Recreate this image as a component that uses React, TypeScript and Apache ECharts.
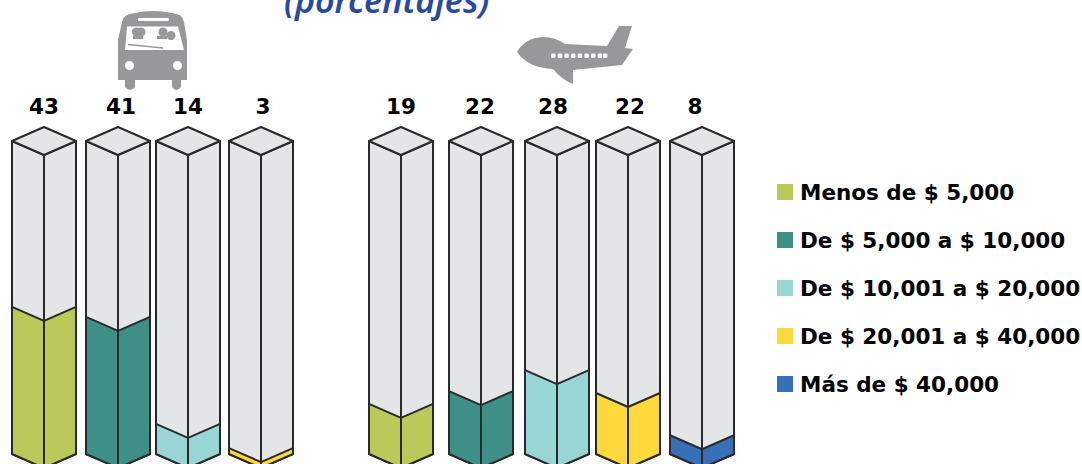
import React, { useEffect, useRef } from "react";
import * as echarts from "echarts";

// ---- data ----
const brackets = [
  "Menos de $ 5,000",
  "De $ 5,000 a $ 10,000",
  "De $ 10,001 a $ 20,000",
  "De $ 20,001 a $ 40,000",
  "Más de $ 40,000",
];
const busBracketIndex = [0, 1, 2, 3];
const busLabels = [43, 41, 14, 3];
// level of the fill, as a share of the column's drawn height
const busFillLevels = [47, 43.8, 9.6, 1.9];
const planeBracketIndex = [0, 1, 2, 3, 4];
const planeLabels = [19, 22, 28, 22, 8];
const planeFillLevels = [16, 20.1, 26.8, 19.5, 6];
const titleText = "(porcentajes)";

// ---- layout and style ----
const busCenters = [44, 118, 188, 261];
const planeCenters = [401, 481, 557, 628, 702];
const busLabelShift = [0, 3, 0, 2];
const planeLabelShift = [0, -1, -4, 2, -7];
const bracketColors = ["#bac959", "#3e8f86", "#98d5d4", "#fdd93c", "#376fb8"];
const faceColor = "#e4e5e7";
const edgeColor = "#2b2a2b";
const iconGray = "#97989a";
const halfWidth = 32;
const depth = 14;

echarts.graphic.registerShape(
  "busBody",
  echarts.graphic.extendPath(
    "M122 22 Q123 14 135 13 Q153 9 172 13 Q183 14 184 22 L187 40 L187 80 L181 80 L181 87 Q176 93 172 87 L172 80 L135 80 L135 87 Q130 93 125 87 L125 80 L118 80 L118 40 Z",
    {}
  )
);
echarts.graphic.registerShape(
  "planeBody",
  echarts.graphic.extendPath(
    "M517 52 Q525 38 543 37 Q555 37 565 44 L607 46 L619 26 L632 26 L625 48 L633 49 L622 65 L573 70 L573 84 Q562 80 553 69 Q528 68 517 52 Z",
    {}
  )
);

const renderColumn = (params: any, api: any) => {
  const color = api.visual("color");
  const cx = api.value(0);
  const [x, fillY] = api.coord([cx, api.value(1)]);
  const bottomY = api.coord([cx, 0])[1];
  const topY = api.coord([cx, 100])[1];
  const l = x - halfWidth;
  const r = x + halfWidth;
  const line = { stroke: edgeColor, lineWidth: 2, fill: null, lineJoin: "round" };
  const poly = (points: number[][], fill: string, z2 = 1, lineWidth = 2) => ({
    type: "polygon",
    z2,
    shape: { points },
    style: { fill, stroke: edgeColor, lineWidth, lineJoin: "round" },
  });
  return {
    type: "group",
    children: [
      poly([[l, topY - depth], [x, topY], [x, bottomY], [l, bottomY - depth]], faceColor, 1),
      poly([[x, topY], [r, topY - depth], [r, bottomY - depth], [x, bottomY]], faceColor, 1),
      poly([[l, fillY - depth], [x, fillY], [x, bottomY], [l, bottomY - depth]], color, 2),
      poly([[x, fillY], [r, fillY - depth], [r, bottomY - depth], [x, bottomY]], color, 2),
      poly([[l, topY - depth], [x, topY - 2 * depth], [r, topY - depth], [x, topY]], faceColor, 3),
      { type: "line", z2: 4, shape: { x1: x, y1: topY, x2: x, y2: bottomY }, style: line },
      {
        type: "text",
        z2: 5,
        style: {
          text: String(api.value(2)),
          x: x + api.value(3),
          y: topY - 49,
          align: "center",
          verticalAlign: "middle",
          fill: "#000",
          font: '700 21.5px "DejaVu Sans"',
        },
      },
    ],
  };
};

const seriesFor = (bracket: number) => {
  const data: number[][] = [];
  busBracketIndex.forEach((b, i) => {
    if (b === bracket) data.push([busCenters[i], busFillLevels[i], busLabels[i], busLabelShift[i]]);
  });
  planeBracketIndex.forEach((b, i) => {
    if (b === bracket) data.push([planeCenters[i], planeFillLevels[i], planeLabels[i], planeLabelShift[i]]);
  });
  return {
    type: "custom",
    name: brackets[bracket],
    itemStyle: { color: bracketColors[bracket] },
    renderItem: renderColumn,
    encode: { x: 0, y: 1 },
    data,
    silent: true,
    clip: false,
  };
};

const planeWindows = [553, 559.7, 566.4, 573, 579.7, 586.4, 593, 599.7, 605];

export default function App() {
  const ref = useRef<HTMLDivElement>(null);
  useEffect(() => {
    const chart = echarts.init(ref.current!, undefined, { renderer: "svg" });
    chart.setOption({
      animation: false,
      backgroundColor: "#ffffff",
      title: {
        text: titleText,
        left: 284,
        top: -17,
        padding: 0,
        textStyle: {
          color: "#2a4b9b",
          fontFamily: '"Noto Sans"',
          fontStyle: "italic",
          fontWeight: 600,
          fontSize: 34,
        },
      },
      grid: { left: 0, top: 155, width: 1082, height: 313, outerBoundsMode: "none" },
      xAxis: { type: "value", min: 0, max: 1082, show: false },
      yAxis: { type: "value", min: 0, max: 100, show: false },
      legend: {
        orient: "vertical",
        left: 777,
        top: 181,
        padding: 0,
        itemWidth: 16,
        itemHeight: 16,
        itemGap: 26,
        icon: "rect",
        selectedMode: false,
        textStyle: {
          color: "#000",
          fontFamily: '"DejaVu Sans"',
          fontWeight: 700,
          fontSize: 21.5,
          padding: [0, 0, 0, 2],
        },
        data: brackets,
      },
      series: brackets.map((_, i) => seriesFor(i)),
      graphic: [
        {
          type: "group",
          silent: true,
          children: [
            { type: "busBody", x: 0, y: 0, style: { fill: iconGray } },
            { type: "rect", shape: { x: 138, y: 18, width: 31, height: 3, r: 1 }, style: { fill: "#fff" } },
            {
              type: "polygon",
              shape: { points: [[127, 26.5], [178, 26.5], [184, 50], [125, 50]] },
              style: { fill: "#fff" },
            },
            { type: "circle", shape: { cx: 129.5, cy: 65.5, r: 4.5 }, style: { fill: "#fff" } },
            { type: "circle", shape: { cx: 177.5, cy: 65.5, r: 4.5 }, style: { fill: "#fff" } },
            { type: "circle", shape: { cx: 136.5, cy: 32, r: 4.5 }, style: { fill: iconGray } },
            { type: "circle", shape: { cx: 141, cy: 32, r: 4.5 }, style: { fill: iconGray } },
            { type: "circle", shape: { cx: 163, cy: 32, r: 4.5 }, style: { fill: iconGray } },
            { type: "circle", shape: { cx: 171, cy: 35.5, r: 4.5 }, style: { fill: iconGray } },
            { type: "rect", shape: { x: 133, y: 36, width: 10, height: 3 }, style: { fill: iconGray } },
            { type: "rect", shape: { x: 157, y: 36, width: 10, height: 3 }, style: { fill: iconGray } },
            { type: "line", shape: { x1: 128, y1: 44.5, x2: 163, y2: 48 }, style: { stroke: iconGray, lineWidth: 1.5 } },
            { type: "planeBody", x: 0, y: 0, style: { fill: iconGray } },
            ...planeWindows.map((wx) => ({
              type: "rect",
              shape: { x: wx - 2, y: 53.5, width: 4.4, height: 4.4, r: 1 },
              style: { fill: "#fff" },
            })),
          ],
        },
      ],
    });
    return () => chart.dispose();
  }, []);
  return (
    <div
      ref={ref}
      style={{ position: "absolute", left: 0, top: 0, width: 1082, height: 464, overflow: "hidden" }}
    />
  );
}
